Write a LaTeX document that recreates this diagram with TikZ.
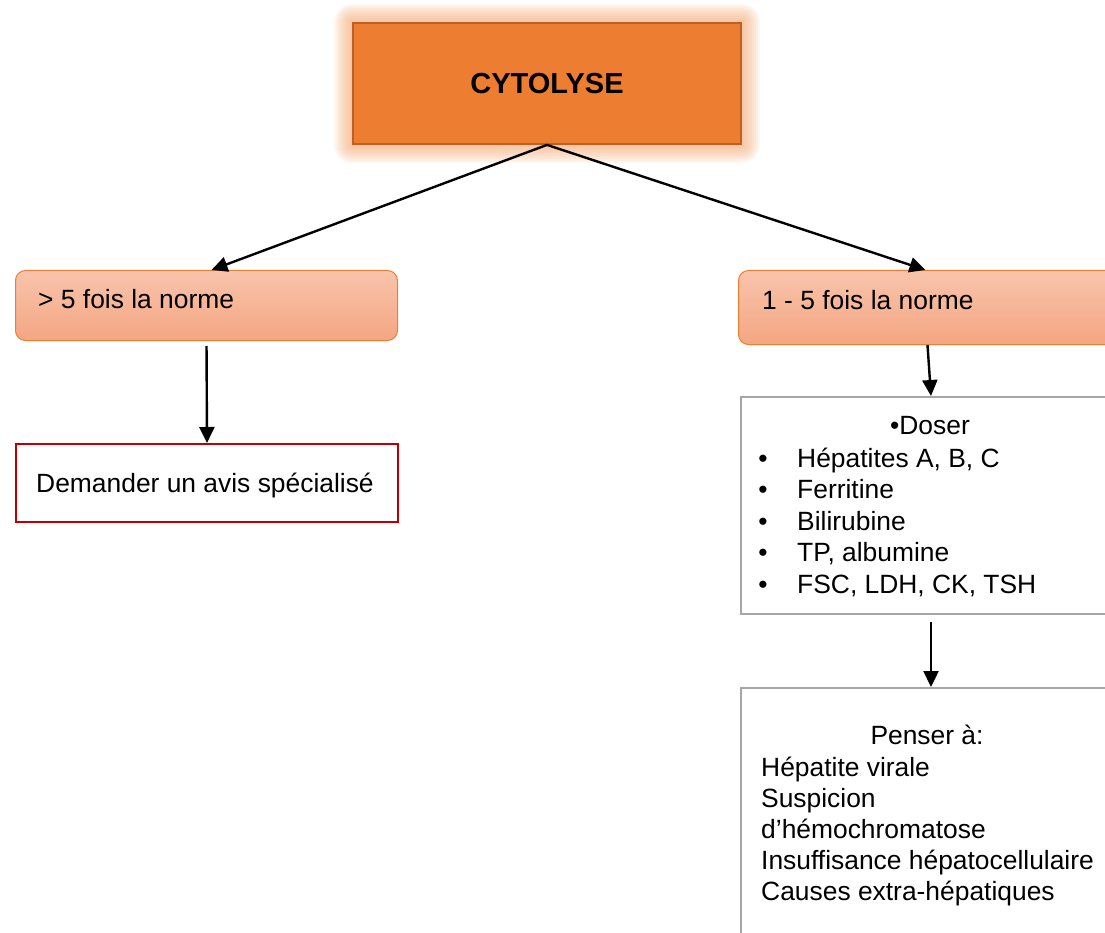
\documentclass[tikz,border=0pt]{standalone}
\usepackage{fontspec}
\setmainfont{Liberation Sans}
\usetikzlibrary{arrows.meta,backgrounds}

\definecolor{cytoorange}{RGB}{237,125,49}
\definecolor{cytoedge}{RGB}{190,95,35}
\definecolor{peachtop}{RGB}{248,196,172}
\definecolor{peachbot}{RGB}{244,166,130}
\definecolor{avisred}{RGB}{192,0,0}
\definecolor{boxgray}{RGB}{166,166,166}

\tikzset{
  basefont/.style={font=\fontsize{26.4}{31.5}\selectfont},
  topbox/.style={draw=cytoedge, line width=1.8pt, fill=cytoorange, minimum width=388pt, minimum height=121pt, inner sep=0pt},
  normbox/.style={draw=cytoorange, line width=1pt, top color=peachtop, bottom color=peachbot, rounded corners=10pt, anchor=north west, inner sep=0pt},
  avisbox/.style={draw=avisred, line width=2pt, fill=white, anchor=north west, inner sep=0pt},
  listbox/.style={draw=boxgray, line width=2pt, fill=white, anchor=north west, inner sep=0pt},
  flow/.style={line width=2.4pt, -{Triangle[length=16pt,width=15pt]}},
  txt/.style={basefont, inner sep=0pt, anchor=base west}
}

\begin{document}
\begin{tikzpicture}[x=1pt,y=-1pt]
    \useasboundingbox (0,0) rectangle (1105,933);
    \clip (0,0) rectangle (1105,933);

    % Top orange box with glow
    \node[topbox, font=\bfseries\fontsize{29}{34}\selectfont] (cyto) at (547,83.5) {CYTOLYSE};
    \begin{scope}[on background layer]
        \foreach \g in {2,4,...,18}
            \fill[cytoorange!65, opacity=0.11, rounded corners=\g pt]
                ([shift={(-\g,-\g)}]cyto.north west) rectangle ([shift={(\g,\g)}]cyto.south east);
    \end{scope}

    % Two branches
    \node[normbox, minimum width=382pt, minimum height=70pt] (high) at (15,270) {};
    \node[txt] (hightxt) at (38,308) {> 5 fois la norme};
    \node[normbox, minimum width=392pt, minimum height=74pt] (low) at (738,270) {};
    \node[txt] (lowtxt) at (762,309) {1 - 5 fois la norme};

    % Left: specialist
    \node[avisbox, minimum width=382pt, minimum height=78pt] (avis) at (15,443) {};
    \node[txt, anchor=base] (avistxt) at (205,492) {Demander un avis spécialisé};

    % Right: tests
    \node[listbox, minimum width=390pt, minimum height=217pt] (doser) at (740,396) {};
    \node[txt, anchor=base] (dosertitle) at (930,434) {•Doser};
    \foreach \entry [count=\i] in {{Hépatites A, B, C}, Ferritine, Bilirubine, {TP, albumine}, {FSC, LDH, CK, TSH}} {
        \node[txt, anchor=base] (bul\i) at (763,{435.5+31.5*\i}) {•};
        \node[txt] (test\i) at (797,{435.5+31.5*\i}) {\entry};
    }

    % Right: causes
    \node[listbox, minimum width=390pt, minimum height=280pt] (penser) at (740,687) {};
    \node[txt, anchor=base] (pensertitle) at (927,744) {Penser à:};
    \foreach \entry [count=\i] in {Hépatite virale, Suspicion, d’hémochromatose, Insuffisance hépatocellulaire, Causes extra-hépatiques} {
        \node[txt] (cause\i) at (761,{745+31*\i}) {\entry};
    }

    % Arrows
    \draw[flow] (cyto.south) -- ([xshift=5pt]high.north);
    \draw[flow] (cyto.south) -- ([xshift=-9pt]low.north);
    \draw[flow, shorten <=5pt] (high.south) -- (avis.north);
    \draw[flow] ([xshift=-7pt]low.south) -- ([xshift=-5pt]doser.north);
    \draw[flow, shorten <=7pt] ([xshift=-5pt]doser.south) -- ([xshift=-5pt]penser.north);
\end{tikzpicture}
\end{document}
